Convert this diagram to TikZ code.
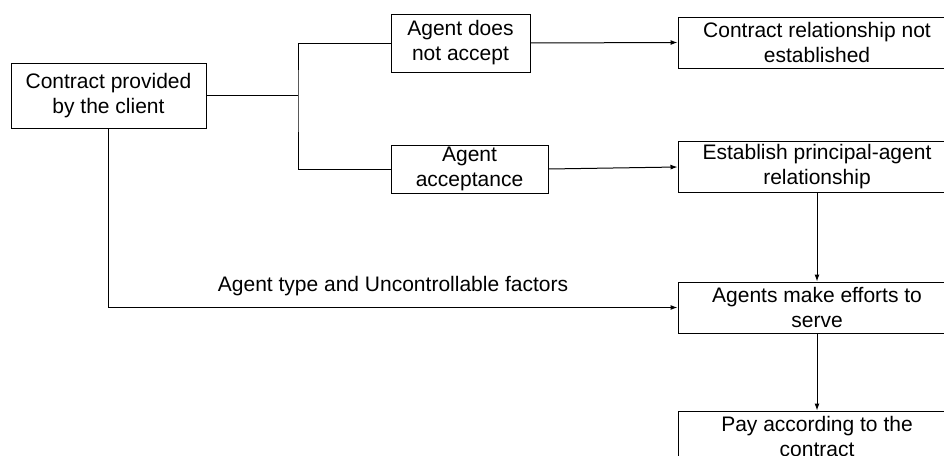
\documentclass[tikz,border=0pt]{standalone}
\usepackage{fontspec}
\setmainfont{Liberation Sans}
\usetikzlibrary{arrows.meta}

\begin{document}
\begin{tikzpicture}[x=1pt,y=-1pt,line width=1pt,>={Latex[length=7pt,width=5pt]},
		box/.style={draw,align=center,inner sep=2pt,font=\fontsize{21}{25}\selectfont},
		note/.style={font=\fontsize{21}{25}\selectfont}]
	\useasboundingbox (0,0) rectangle (944,455);
	\node[box,minimum width=195pt,minimum height=65pt] (client) at (108.5,95.5) {Contract provided\\by the client};
	\node[box,minimum width=139pt,minimum height=58pt] (refuse) at (460.5,43) {Agent does\\not accept};
	\node[box,minimum width=157pt,minimum height=48pt] (accept) at (469.5,169) {Agent\\acceptance};
	\node[box,minimum width=278pt,minimum height=51pt] (notest) at (817,42.5) {Contract relationship not\\established};
	\node[box,minimum width=278pt,minimum height=51pt] (establish) at (817,167) {Establish principal-agent\\relationship};
	\node[box,minimum width=278pt,minimum height=51pt] (effort) at (817,307.5) {Agents make efforts to\\serve};
	\node[box,minimum width=278pt,minimum height=51pt] (pay) at (817,436.5) {Pay according to the\\contract};
	\coordinate (split) at (298,95.5);
	\draw (client.east) -- (split);
	\draw (refuse.west) -| (split) |- (accept.west);
	\draw[->] (refuse.east) -- (notest.west);
	\draw[->] (accept.east) -- (establish.west);
	\draw[->] (establish.south) -- (effort.north);
	\draw[->] (effort.south) -- (pay.north);
	\draw[->] (client.south) |- node[note,pos=0.75,above=8pt] (factors) {Agent type and Uncontrollable factors} (effort.west);
\end{tikzpicture}
\end{document}
